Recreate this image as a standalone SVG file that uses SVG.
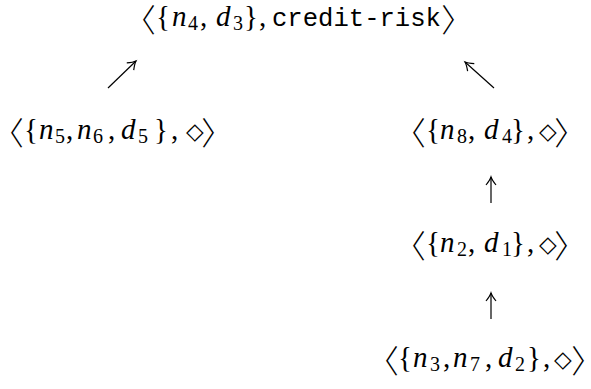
<svg xmlns="http://www.w3.org/2000/svg" width="591" height="389" viewBox="0 0 591 389">
<style>
  text { font-family: "Liberation Serif", "DejaVu Serif", serif; font-size: 29px; fill: #000; }
  .i { font-style: italic; }
  .sub { font-size: 20px; }
  .tt { font-family: "Liberation Mono", "DejaVu Sans Mono", monospace; font-size: 25.6px; }
  .ab { font-family: "Noto Sans CJK JP", "Noto Sans CJK SC", sans-serif; font-size: 32px; font-weight: 300; font-feature-settings: "palt" 1; }
  .dm { font-family: "DejaVu Sans", sans-serif; font-size: 23px; }
  .conn line { stroke: #000; stroke-width: 1.2; marker-end: url(#ah); }
</style>
<defs>
  <marker id="ah" markerUnits="userSpaceOnUse" markerWidth="20" markerHeight="20" viewBox="-10 -10 20 20" refX="0" refY="0" orient="auto">
    <path d="M-8,-5 Q-3,-1 0,0 Q-3,1 -8,5" fill="none" stroke="#000" stroke-width="1.2"/>
  </marker>
</defs>
<g id="n1">
  <text y="26"><tspan class="ab" x="139" dy="6">〈</tspan><tspan x="156" dy="-6">{</tspan><tspan class="i" x="172">n</tspan><tspan class="sub" x="188" dy="4">4</tspan><tspan x="200" dy="-4">,</tspan><tspan class="i" x="216">d</tspan><tspan class="sub" x="233" dy="4">3</tspan><tspan x="244" dy="-4">}</tspan><tspan x="259">,</tspan><tspan class="tt" x="272">credit-risk</tspan><tspan class="ab" x="442" dy="6">〉</tspan></text>
</g>
<g id="n2">
  <text y="139"><tspan class="ab" x="7" dy="6">〈</tspan><tspan x="24" dy="-6">{</tspan><tspan class="i" x="39">n</tspan><tspan class="sub" x="55" dy="4">5</tspan><tspan x="66" dy="-4">,</tspan><tspan class="i" x="77">n</tspan><tspan class="sub" x="93" dy="4">6</tspan><tspan x="108" dy="-4">,</tspan><tspan class="i" x="121">d</tspan><tspan class="sub" x="138" dy="4">5</tspan><tspan x="154" dy="-4">}</tspan><tspan x="171">,</tspan><tspan class="dm" x="186">◇</tspan><tspan class="ab" x="202" dy="6">〉</tspan></text>
</g>
<g id="n3">
  <text y="139"><tspan class="ab" x="409" dy="6">〈</tspan><tspan x="426" dy="-6">{</tspan><tspan class="i" x="440">n</tspan><tspan class="sub" x="457" dy="4">8</tspan><tspan x="468" dy="-4">,</tspan><tspan class="i" x="484">d</tspan><tspan class="sub" x="502" dy="4">4</tspan><tspan x="511" dy="-4">}</tspan><tspan x="527">,</tspan><tspan class="dm" x="539">◇</tspan><tspan class="ab" x="555" dy="6">〉</tspan></text>
</g>
<g id="n4">
  <text y="252"><tspan class="ab" x="409" dy="6">〈</tspan><tspan x="426" dy="-6">{</tspan><tspan class="i" x="440">n</tspan><tspan class="sub" x="457" dy="4">2</tspan><tspan x="468" dy="-4">,</tspan><tspan class="i" x="484">d</tspan><tspan class="sub" x="502" dy="4">1</tspan><tspan x="511" dy="-4">}</tspan><tspan x="527">,</tspan><tspan class="dm" x="539">◇</tspan><tspan class="ab" x="555" dy="6">〉</tspan></text>
</g>
<g id="n5">
  <text y="367"><tspan class="ab" x="382" dy="6">〈</tspan><tspan x="398" dy="-6">{</tspan><tspan class="i" x="413">n</tspan><tspan class="sub" x="430" dy="4">3</tspan><tspan x="443" dy="-4">,</tspan><tspan class="i" x="453">n</tspan><tspan class="sub" x="470" dy="4">7</tspan><tspan x="485" dy="-4">,</tspan><tspan class="i" x="498">d</tspan><tspan class="sub" x="515" dy="4">2</tspan><tspan x="527" dy="-4">}</tspan><tspan x="543">,</tspan><tspan class="dm" x="554">◇</tspan><tspan class="ab" x="572" dy="6">〉</tspan></text>
</g>
<g id="connectors" class="conn">
  <line x1="108" y1="88" x2="136" y2="61"/>
  <line x1="494" y1="88" x2="465" y2="62"/>
  <line x1="491" y1="203" x2="491" y2="177"/>
  <line x1="491" y1="319" x2="491" y2="293"/>
</g>
</svg>
